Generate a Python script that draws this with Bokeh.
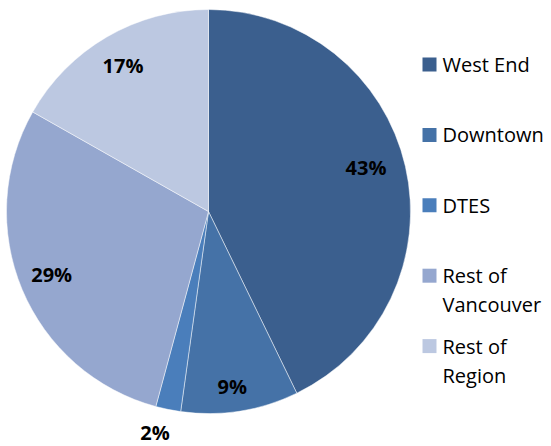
import math
from bokeh.plotting import figure
from bokeh.models import ColumnDataSource
from bokeh.core.properties import value
from bokeh.embed import file_html
from bokeh.resources import INLINE

categories = ["West End", "Downtown", "DTES", "Rest of Vancouver", "Rest of Region"]
legend_labels = ["West End", "Downtown", "DTES", "Rest of\nVancouver", "Rest of\nRegion"]
shares = [42.8, 9.4, 2.0, 29.0, 16.8]
colors = ["#3B5F8E", "#4572A7", "#4A7EBB", "#95A7CF", "#BCC8E1"]

# layout constants
W, H = 551, 446
CX, CY, R = 208, 235, 202
label_rfac = [0.81, 0.876, 1.134, 0.836, 0.838]
label_dang = [-2.7, 1.3, 2.0, 0.9, -0.1]   # degrees, clockwise nudge
FONT = value("Open Sans")

total = sum(shares)
starts, ends, mids = [], [], []
acc = 0.0
for s in shares:
    a0 = math.pi / 2 - 2 * math.pi * acc / total
    acc += s
    a1 = math.pi / 2 - 2 * math.pi * acc / total
    starts.append(a0)
    ends.append(a1)
    mids.append((a0 + a1) / 2)

p = figure(width=W, height=H, x_range=(0, W), y_range=(0, H),
           output_backend="svg", toolbar_location=None, min_border=0)
p.axis.visible = False
p.grid.visible = False
p.outline_line_color = None
p.background_fill_color = "white"
p.border_fill_color = "white"

src = ColumnDataSource(dict(start=starts, end=ends, color=colors, cat=categories))
p.wedge(x=CX, y=CY, radius=R, start_angle="start", end_angle="end",
        direction="clock", fill_color="color", line_color="white",
        line_width=0.8, line_alpha=0.6, source=src)

# percentage labels
angs = [m - math.radians(d) for m, d in zip(mids, label_dang)]
lx = [CX + f * R * math.cos(a) for f, a in zip(label_rfac, angs)]
ly = [CY + f * R * math.sin(a) for f, a in zip(label_rfac, angs)]
ly[2] = max(ly[2], 14)
pct = [f"{round(s / total * 100)}%" for s in shares]
p.text(x=lx, y=ly, text=pct, text_align="center", text_baseline="middle",
       text_font=FONT, text_font_style="bold", text_font_size="20px",
       text_color="black")

# legend (manual)
LEG_TOP = 382      # centre of first square (data y)
LEG_STEP = 70.4
LINE_H = 29
sq_x, sq_y, tx, ty, tt = [], [], [], [], []
for i, lab in enumerate(legend_labels):
    cy = LEG_TOP - i * LEG_STEP
    sq_x.append(429)
    sq_y.append(cy)
    for j, line in enumerate(lab.split("\n")):
        tx.append(442)
        ty.append(cy - j * LINE_H)
        tt.append(line)
p.rect(x=sq_x, y=sq_y, width=14, height=14, fill_color=colors, line_color=None)
p.text(x=tx, y=ty, text=tt, text_align="left", text_baseline="middle",
       text_font=FONT, text_font_size="20px", text_color="black")

open("out.html", "w").write(file_html(p, INLINE))
